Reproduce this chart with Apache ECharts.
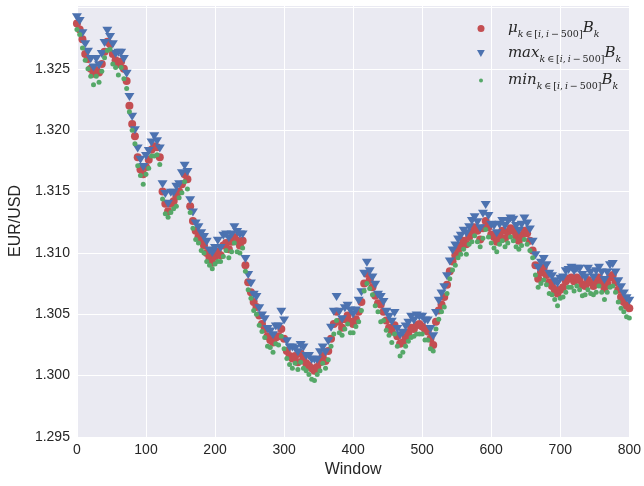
<!DOCTYPE html>
<html>
<head>
<meta charset="utf-8">
<script src="https://cdn.jsdelivr.net/npm/echarts@6/dist/echarts.min.js"></script>
<style>
  html, body { margin: 0; padding: 0; background: #ffffff; }
  #chart { width: 644px; height: 486px; }
</style>
</head>
<body>
<div id="chart"></div>
<script>
// Rolling-window statistics of the EUR/USD rate (window of 500 ticks)
const windows = [
  0, 4, 8, 12, 16, 20, 24, 28, 32, 36,
  40, 44, 48, 52, 56, 60, 64, 68, 72, 76,
  80, 84, 88, 92, 96, 100, 104, 108, 112, 116,
  120, 124, 128, 132, 136, 140, 144, 148, 152, 156,
  160, 164, 168, 172, 176, 180, 184, 188, 192, 196,
  200, 204, 208, 212, 216, 220, 224, 228, 232, 236,
  240, 244, 248, 252, 256, 260, 264, 268, 272, 276,
  280, 284, 288, 292, 296, 300, 304, 308, 312, 316,
  320, 324, 328, 332, 336, 340, 344, 348, 352, 356,
  360, 364, 368, 372, 376, 380, 384, 388, 392, 396,
  400, 404, 408, 412, 416, 420, 424, 428, 432, 436,
  440, 444, 448, 452, 456, 460, 464, 468, 472, 476,
  480, 484, 488, 492, 496, 500, 504, 508, 512, 516,
  520, 524, 528, 532, 536, 540, 544, 548, 552, 556,
  560, 564, 568, 572, 576, 580, 584, 588, 592, 596,
  600, 604, 608, 612, 616, 620, 624, 628, 632, 636,
  640, 644, 648, 652, 656, 660, 664, 668, 672, 676,
  680, 684, 688, 692, 696, 700, 704, 708, 712, 716,
  720, 724, 728, 732, 736, 740, 744, 748, 752, 756,
  760, 764, 768, 772, 776, 780, 784, 788, 792, 796,
  800
];

const meanRate = [
  1.3287, 1.3282, 1.3274, 1.3262, 1.3258, 1.3250, 1.3246, 1.3249, 1.3247, 1.3254,
  1.3264, 1.3272, 1.3270, 1.3262, 1.3257, 1.3254, 1.3256, 1.3250, 1.3240, 1.3220,
  1.3205, 1.3195, 1.3178, 1.3168, 1.3164, 1.3170, 1.3176, 1.3184, 1.3187, 1.3186,
  1.3178, 1.3150, 1.3140, 1.3134, 1.3140, 1.3142, 1.3146, 1.3150, 1.3156, 1.3164,
  1.3160, 1.3138, 1.3126, 1.3118, 1.3113, 1.3110, 1.3106, 1.3100, 1.3096, 1.3092,
  1.3097, 1.3101, 1.3098, 1.3106, 1.3108, 1.3103, 1.3109, 1.3113, 1.3110, 1.3106,
  1.3110, 1.3090, 1.3076, 1.3068, 1.3060, 1.3056, 1.3049, 1.3042, 1.3038, 1.3032,
  1.3029, 1.3027, 1.3031, 1.3032, 1.3038, 1.3030, 1.3020, 1.3016, 1.3014, 1.3016,
  1.3011, 1.3018, 1.3014, 1.3010, 1.3008, 1.3006, 1.3004, 1.3007, 1.3011, 1.3016,
  1.3012, 1.3020, 1.3030, 1.3042, 1.3052, 1.3044, 1.3039, 1.3046, 1.3049, 1.3044,
  1.3042, 1.3046, 1.3052, 1.3060, 1.3075, 1.3083, 1.3078, 1.3072, 1.3065, 1.3059,
  1.3058, 1.3052, 1.3045, 1.3039, 1.3036, 1.3041, 1.3032, 1.3026, 1.3027, 1.3031,
  1.3035, 1.3039, 1.3038, 1.3041, 1.3042, 1.3040, 1.3038, 1.3036, 1.3030, 1.3025,
  1.3044, 1.3053, 1.3058, 1.3064, 1.3074, 1.3085, 1.3093, 1.3098, 1.3102, 1.3106,
  1.3110, 1.3107, 1.3113, 1.3117, 1.3121, 1.3118, 1.3111, 1.3120, 1.3126, 1.3121,
  1.3115, 1.3113, 1.3109, 1.3114, 1.3118, 1.3112, 1.3117, 1.3120, 1.3118, 1.3114,
  1.3110, 1.3114, 1.3118, 1.3116, 1.3110, 1.3102, 1.3090, 1.3079, 1.3084, 1.3088,
  1.3082, 1.3076, 1.3073, 1.3070, 1.3067, 1.3070, 1.3072, 1.3077, 1.3079, 1.3080,
  1.3077, 1.3080, 1.3078, 1.3074, 1.3073, 1.3078, 1.3076, 1.3073, 1.3076, 1.3080,
  1.3076, 1.3071, 1.3075, 1.3080, 1.3082, 1.3076, 1.3070, 1.3064, 1.3060, 1.3057,
  1.3055
];

const maxRate = [
  1.3292, 1.3289, 1.3279, 1.3270, 1.3264, 1.3258, 1.3251, 1.3258, 1.3253, 1.3262,
  1.3271, 1.3281, 1.3276, 1.3270, 1.3262, 1.3263, 1.3263, 1.3258, 1.3246, 1.3227,
  1.3211, 1.3200, 1.3185, 1.3176, 1.3170, 1.3179, 1.3183, 1.3190, 1.3195, 1.3191,
  1.3185, 1.3156, 1.3148, 1.3140, 1.3149, 1.3149, 1.3154, 1.3156, 1.3165, 1.3171,
  1.3166, 1.3143, 1.3133, 1.3124, 1.3121, 1.3116, 1.3113, 1.3109, 1.3102, 1.3100,
  1.3104, 1.3110, 1.3104, 1.3114, 1.3115, 1.3112, 1.3115, 1.3121, 1.3117, 1.3115,
  1.3115, 1.3095, 1.3082, 1.3075, 1.3066, 1.3064, 1.3055, 1.3049, 1.3046, 1.3038,
  1.3036, 1.3033, 1.3040, 1.3040, 1.3052, 1.3045, 1.3028, 1.3023, 1.3023, 1.3022,
  1.3019, 1.3025, 1.3023, 1.3016, 1.3016, 1.3013, 1.3013, 1.3013, 1.3019, 1.3023,
  1.3019, 1.3028, 1.3039, 1.3052, 1.3064, 1.3052, 1.3046, 1.3055, 1.3057, 1.3053,
  1.3050, 1.3053, 1.3061, 1.3068, 1.3083, 1.3092, 1.3085, 1.3080, 1.3074, 1.3066,
  1.3064, 1.3060, 1.3052, 1.3048, 1.3044, 1.3051, 1.3038, 1.3033, 1.3035, 1.3040,
  1.3043, 1.3048, 1.3045, 1.3049, 1.3048, 1.3048, 1.3045, 1.3045, 1.3038, 1.3032,
  1.3051, 1.3061, 1.3067, 1.3072, 1.3081, 1.3093, 1.3102, 1.3106, 1.3111, 1.3114,
  1.3118, 1.3116, 1.3121, 1.3126, 1.3129, 1.3125, 1.3120, 1.3132, 1.3139, 1.3130,
  1.3123, 1.3122, 1.3116, 1.3123, 1.3126, 1.3122, 1.3126, 1.3128, 1.3127, 1.3122,
  1.3118, 1.3123, 1.3128, 1.3124, 1.3119, 1.3109, 1.3098, 1.3088, 1.3092, 1.3095,
  1.3090, 1.3083, 1.3081, 1.3077, 1.3075, 1.3079, 1.3080, 1.3085, 1.3086, 1.3088,
  1.3085, 1.3087, 1.3087, 1.3082, 1.3080, 1.3087, 1.3084, 1.3080, 1.3085, 1.3088,
  1.3084, 1.3078, 1.3084, 1.3090, 1.3091, 1.3084, 1.3077, 1.3072, 1.3067, 1.3063,
  1.3061
];

const minRate = [
  1.3282, 1.3278, 1.3267, 1.3257, 1.3250, 1.3244, 1.3237, 1.3244, 1.3239, 1.3248,
  1.3259, 1.3265, 1.3266, 1.3254, 1.3251, 1.3245, 1.3251, 1.3242, 1.3234, 1.3215,
  1.3200, 1.3189, 1.3171, 1.3163, 1.3156, 1.3164, 1.3169, 1.3179, 1.3179, 1.3180,
  1.3172, 1.3144, 1.3132, 1.3129, 1.3133, 1.3136, 1.3138, 1.3145, 1.3149, 1.3158,
  1.3152, 1.3133, 1.3120, 1.3111, 1.3108, 1.3102, 1.3100, 1.3093, 1.3090, 1.3087,
  1.3091, 1.3093, 1.3093, 1.3097, 1.3102, 1.3096, 1.3101, 1.3108, 1.3101, 1.3100,
  1.3104, 1.3085, 1.3070, 1.3063, 1.3053, 1.3050, 1.3041, 1.3036, 1.3031, 1.3024,
  1.3023, 1.3019, 1.3026, 1.3025, 1.3032, 1.3022, 1.3014, 1.3009, 1.3006, 1.3010,
  1.3005, 1.3011, 1.3006, 1.3004, 1.3001, 1.2997, 1.2996, 1.3001, 1.3004, 1.3010,
  1.3006, 1.3013, 1.3024, 1.3034, 1.3045, 1.3035, 1.3033, 1.3038, 1.3042, 1.3035,
  1.3035, 1.3040, 1.3044, 1.3053, 1.3069, 1.3075, 1.3071, 1.3066, 1.3057, 1.3052,
  1.3044, 1.3045, 1.3037, 1.3033, 1.3027, 1.3034, 1.3024, 1.3016, 1.3019, 1.3024,
  1.3028, 1.3031, 1.3032, 1.3034, 1.3034, 1.3034, 1.3029, 1.3029, 1.3022, 1.3020,
  1.3038, 1.3046, 1.3052, 1.3056, 1.3067, 1.3079, 1.3086, 1.3090, 1.3096, 1.3099,
  1.3103, 1.3099, 1.3107, 1.3109, 1.3114, 1.3109, 1.3105, 1.3112, 1.3119, 1.3113,
  1.3108, 1.3104, 1.3101, 1.3107, 1.3110, 1.3105, 1.3108, 1.3113, 1.3110, 1.3105,
  1.3103, 1.3106, 1.3111, 1.3107, 1.3102, 1.3096, 1.3082, 1.3072, 1.3075, 1.3078,
  1.3074, 1.3067, 1.3066, 1.3062, 1.3057, 1.3063, 1.3064, 1.3068, 1.3072, 1.3072,
  1.3069, 1.3073, 1.3070, 1.3065, 1.3066, 1.3070, 1.3067, 1.3066, 1.3068, 1.3073,
  1.3068, 1.3062, 1.3068, 1.3072, 1.3073, 1.3068, 1.3060, 1.3055, 1.3052, 1.3048,
  1.3047
];

const colors = { mean: '#C44E52', max: '#4C72B0', min: '#55A868' };
const triangleDown = 'path://M0,0L10,0L5,9Z';

const pair = (vals) => windows.map((w, i) => [w, vals[i]]);

// math-style legend labels: italic letters, upright digits/brackets in the subscript
const subscript = '{si|k}{sr|\u2009∈\u2009[}{si|i}{sr|,\u2009}{si|i}{sr|\u2009−\u2009500]}';
const legendText = {
  mean: '{it|μ}' + subscript + '{it|B}{si|k}',
  max: '{it|max}' + subscript + '{it|B}{si|k}',
  min: '{it|min}' + subscript + '{it|B}{si|k}'
};

const mathRich = {
  it: { fontFamily: 'DejaVu Serif', fontStyle: 'italic', fontSize: 15, lineHeight: 22, verticalAlign: 'middle', color: '#262626' },
  si: { fontFamily: 'DejaVu Serif', fontStyle: 'italic', fontSize: 9.5, lineHeight: 10, verticalAlign: 'bottom', color: '#262626' },
  sr: { fontFamily: 'DejaVu Serif', fontSize: 9.5, lineHeight: 10, verticalAlign: 'bottom', color: '#262626' }
};

function makeLegend(name, top, w, h, icon) {
  return {
    data: [{ name: name, icon: icon }],
    orient: 'vertical',
    left: 481 - w / 2,
    top: top,
    padding: 0,
    itemWidth: w,
    itemHeight: h,
    selectedMode: false,
    formatter: () => '{sp|}' + legendText[name],
    textStyle: {
      rich: Object.assign({ sp: { width: 508 - (481 + w / 2 + 5), lineHeight: 22 } }, mathRich)
    }
  };
}

const chart = echarts.init(document.getElementById('chart'), null, { renderer: 'canvas' });

chart.setOption({
  animation: false,
  backgroundColor: '#ffffff',
  textStyle: { fontFamily: 'Liberation Sans, Arial, sans-serif' },
  grid: {
    left: 75, right: 13, top: 5, bottom: 49,
    show: true, backgroundColor: '#EAEAF2', borderWidth: 0
  },
  legend: [
    makeLegend('mean', 21, 7, 7, 'circle'),
    makeLegend('max', 46, 8, 7, triangleDown),
    makeLegend('min', 73, 4, 4, 'circle')
  ],
  xAxis: {
    type: 'value',
    min: 0, max: 800, interval: 100,
    name: 'Window',
    nameLocation: 'middle',
    nameGap: 24,
    nameTextStyle: { fontSize: 16, color: '#262626' },
    axisLine: { show: false },
    axisTick: { show: false },
    axisLabel: { fontSize: 14, color: '#262626', margin: 6 },
    splitLine: { show: true, lineStyle: { color: '#ffffff', width: 1 } }
  },
  yAxis: {
    type: 'value',
    min: 1.295, max: 1.3302, interval: 0.005,
    name: 'EUR/USD',
    nameLocation: 'middle',
    nameGap: 52,
    nameTextStyle: { fontSize: 16, color: '#262626' },
    axisLine: { show: false },
    axisTick: { show: false },
    axisLabel: {
      fontSize: 14, color: '#262626', margin: 7,
      formatter: (v) => (v > 1.3276 ? '' : v.toFixed(3))
    },
    splitLine: { show: true, lineStyle: { color: '#ffffff', width: 1 } }
  },
  series: [
    {
      name: 'mean', type: 'scatter', data: pair(meanRate),
      symbol: 'circle', symbolSize: 8,
      itemStyle: { color: colors.mean, opacity: 1 }, silent: true
    },
    {
      name: 'max', type: 'scatter', data: pair(maxRate),
      symbol: triangleDown, symbolSize: [10, 8],
      itemStyle: { color: colors.max, opacity: 1 }, silent: true
    },
    {
      name: 'min', type: 'scatter', data: pair(minRate),
      symbol: 'circle', symbolSize: 5,
      itemStyle: { color: colors.min, opacity: 1 }, silent: true
    }
  ]
});
</script>
</body>
</html>
